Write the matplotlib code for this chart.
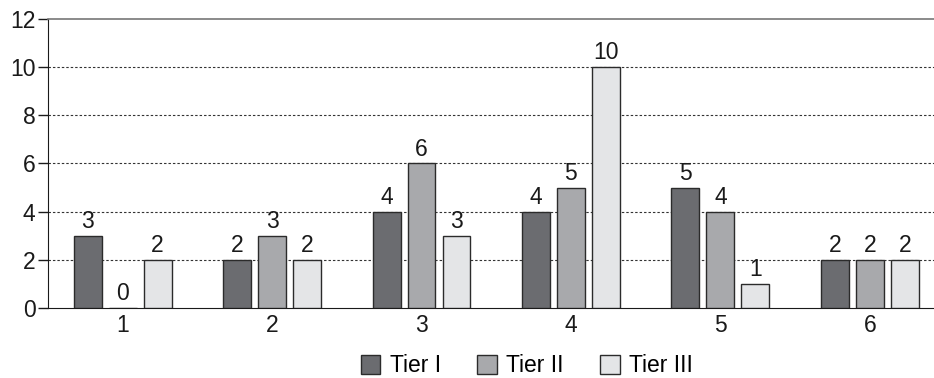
import numpy as np
import matplotlib
matplotlib.use('Agg')
from matplotlib import pyplot as plt

plt.rcParams['font.family'] = ['Liberation Sans', 'DejaVu Sans']

groups = ['1', '2', '3', '4', '5', '6']
tier1 = [3, 2, 4, 4, 5, 2]
tier2 = [0, 3, 6, 5, 4, 2]
tier3 = [2, 2, 3, 10, 1, 2]
series_names = ['Tier I', 'Tier II', 'Tier III']
colors = ['#6b6c70', '#a8a9ac', '#e4e5e7']

fs = 16.5

fig = plt.figure(figsize=(9.34, 3.78), dpi=100)
ax = fig.add_axes([0.0514, 0.185, 0.9486, 0.765])

x = np.arange(1, len(groups) + 1)
width = 0.187
step = 0.234

handles = []
for k, (vals, name, col) in enumerate(zip([tier1, tier2, tier3], series_names, colors)):
    pos = x + (k - 1) * step
    b = ax.bar(pos, vals, width, color=col, edgecolor='#2b2b2b', linewidth=1.0,
               label=name, zorder=3)
    handles.append(b)
    for px, v in zip(pos, vals):
        ax.text(px, v + 0.12, str(v), ha='center', va='bottom', fontsize=fs,
                color='#1a1a1a', zorder=4)

ax.set_xlim(0.5, 6.43)
ax.set_ylim(0, 12)
ax.set_yticks(range(0, 13, 2))
ax.set_xticks(x)
ax.set_xticklabels(groups)
ax.tick_params(axis='y', labelsize=fs, length=7, width=1, colors='#1a1a1a', pad=2)
ax.tick_params(axis='x', labelsize=fs, length=0, pad=4, colors='#1a1a1a')

for yv in range(2, 12, 2):
    ax.axhline(yv, color='#333333', linestyle=(0, (2.2, 1.8)), linewidth=0.8, zorder=1)

ax.spines['right'].set_visible(False)
ax.spines['top'].set_color('#777777')
ax.spines['top'].set_linewidth(1.2)
ax.spines['left'].set_color('#1a1a1a')
ax.spines['bottom'].set_color('#1a1a1a')

fig.legend(handles=handles, labels=series_names, loc='center',
           bbox_to_anchor=(0.564, 0.032), ncol=3, frameon=False, fontsize=fs,
           handlelength=0.85, handleheight=0.85, handletextpad=0.4, columnspacing=1.6)

fig.savefig('out.png', dpi=100)
